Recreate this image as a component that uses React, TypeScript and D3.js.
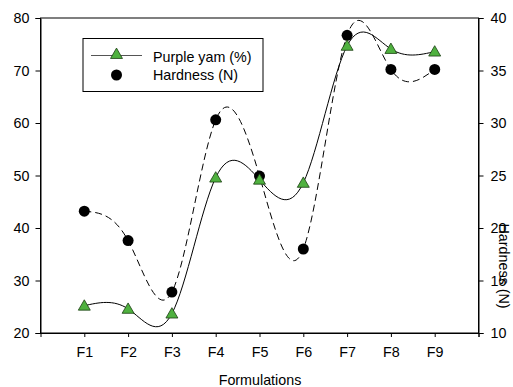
import * as d3 from "d3";
import { useEffect, useRef } from "react";

const categories = ["F1", "F2", "F3", "F4", "F5", "F6", "F7", "F8", "F9"];
const purpleYam = [25.2, 24.6, 23.7, 49.6, 49.2, 48.6, 74.7, 74.1, 73.6];
const hardness = [21.6, 18.8, 13.9, 30.3, 24.95, 18.0, 38.35, 35.1, 35.1];
const leftTicks = [20, 30, 40, 50, 60, 70, 80];
const rightTicks = [10, 15, 20, 25, 30, 35, 40];

const W = 513;
const H = 387;
const FONT = "'Liberation Sans', Arial, sans-serif";
const FS = "14.3px";

export default function App() {
  const svgRef = useRef<SVGSVGElement | null>(null);

  useEffect(() => {
    document.body.style.margin = "0";
    const svg = d3.select(svgRef.current);
    svg.selectAll("*").remove();

    const margin = { top: 18, right: 34.5, bottom: 54, left: 40.5 };
    const x = d3.scaleLinear().domain([0, 10]).range([margin.left, W - margin.right]);
    const yL = d3.scaleLinear().domain([20, 80]).range([H - margin.bottom, margin.top]);
    const yR = d3.scaleLinear().domain([10, 40]).range([H - margin.bottom, margin.top]);

    // frame
    svg
      .append("rect")
      .attr("x", margin.left)
      .attr("y", margin.top)
      .attr("width", W - margin.left - margin.right)
      .attr("height", H - margin.top - margin.bottom)
      .attr("fill", "none")
      .attr("stroke", "#000")
      .attr("stroke-width", 1);

    const styleAxis = (g: any) => {
      g.select(".domain").attr("stroke", "#000");
      g.selectAll(".tick line").attr("stroke", "#000");
      g.selectAll(".tick text")
        .attr("fill", "#000")
        .style("font-family", FONT)
        .style("font-size", FS);
    };

    svg
      .append("g")
      .attr("transform", `translate(0,${H - margin.bottom})`)
      .call(
        d3
          .axisBottom(x)
          .tickValues(d3.range(1, 11))
          .tickSize(4)
          .tickPadding(10)
          .tickFormat((d) => categories[(d as number) - 1] ?? "")
      )
      .call(styleAxis);

    svg
      .append("g")
      .attr("transform", `translate(${margin.left},0)`)
      .call(d3.axisLeft(yL).tickValues(leftTicks).tickSize(5).tickPadding(6))
      .call(styleAxis);

    svg
      .append("g")
      .attr("transform", `translate(${W - margin.right},0)`)
      .call(d3.axisRight(yR).tickValues(rightTicks).tickSize(5).tickPadding(7))
      .call(styleAxis);

    // axis titles
    svg
      .append("text")
      .attr("x", 260)
      .attr("y", 385)
      .attr("text-anchor", "middle")
      .style("font-family", FONT)
      .style("font-size", FS)
      .text("Formulations");

    svg
      .append("text")
      .attr("transform", `translate(499,266) rotate(90)`)
      .attr("text-anchor", "middle")
      .style("font-family", FONT)
      .style("font-size", FS)
      .text("Hardness (N)");

    // curves
    const lineL = d3
      .line<number>()
      .x((_, i) => x(i + 1))
      .y((d) => yL(d))
      .curve(d3.curveNatural);
    const lineR = d3
      .line<number>()
      .x((_, i) => x(i + 1))
      .y((d) => yR(d))
      .curve(d3.curveNatural);

    svg
      .append("path")
      .attr("d", lineR(hardness))
      .attr("fill", "none")
      .attr("stroke", "#000")
      .attr("stroke-width", 1)
      .attr("stroke-dasharray", "7,4");

    svg
      .append("path")
      .attr("d", lineL(purpleYam))
      .attr("fill", "none")
      .attr("stroke", "#000")
      .attr("stroke-width", 1);

    // markers
    const tri = d3.symbol().type(d3.symbolTriangle).size(62);

    svg
      .selectAll(".dot")
      .data(hardness)
      .join("circle")
      .attr("class", "dot")
      .attr("cx", (_, i) => x(i + 1))
      .attr("cy", (d) => yR(d))
      .attr("r", 5.5)
      .attr("fill", "#000");

    svg
      .selectAll(".tri")
      .data(purpleYam)
      .join("path")
      .attr("class", "tri")
      .attr("d", tri()!)
      .attr("transform", (d, i) => `translate(${x(i + 1)},${yL(d) + 1})`)
      .attr("fill", "#4fb13f")
      .attr("stroke", "#1a3d12")
      .attr("stroke-width", 0.8);

    // legend
    const lg = svg.append("g");
    lg.append("rect")
      .attr("x", 83)
      .attr("y", 38.5)
      .attr("width", 180)
      .attr("height", 53)
      .attr("fill", "#fff")
      .attr("stroke", "#000");
    lg.append("line")
      .attr("x1", 91)
      .attr("x2", 142)
      .attr("y1", 55.5)
      .attr("y2", 55.5)
      .attr("stroke", "#555")
      .attr("stroke-width", 1.2);
    lg.append("path")
      .attr("d", tri()!)
      .attr("transform", "translate(116.5,55)")
      .attr("fill", "#4fb13f")
      .attr("stroke", "#1a3d12")
      .attr("stroke-width", 0.8);
    lg.append("circle").attr("cx", 116.5).attr("cy", 75).attr("r", 5.5).attr("fill", "#000");
    lg.append("text")
      .attr("x", 153)
      .attr("y", 61.5)
      .style("font-family", FONT)
      .style("font-size", FS)
      .text("Purple yam (%)");
    lg.append("text")
      .attr("x", 153)
      .attr("y", 80)
      .style("font-family", FONT)
      .style("font-size", FS)
      .text("Hardness (N)");
  }, []);

  return <svg ref={svgRef} width={W} height={H} style={{ display: "block", background: "#fff" }} />;
}
